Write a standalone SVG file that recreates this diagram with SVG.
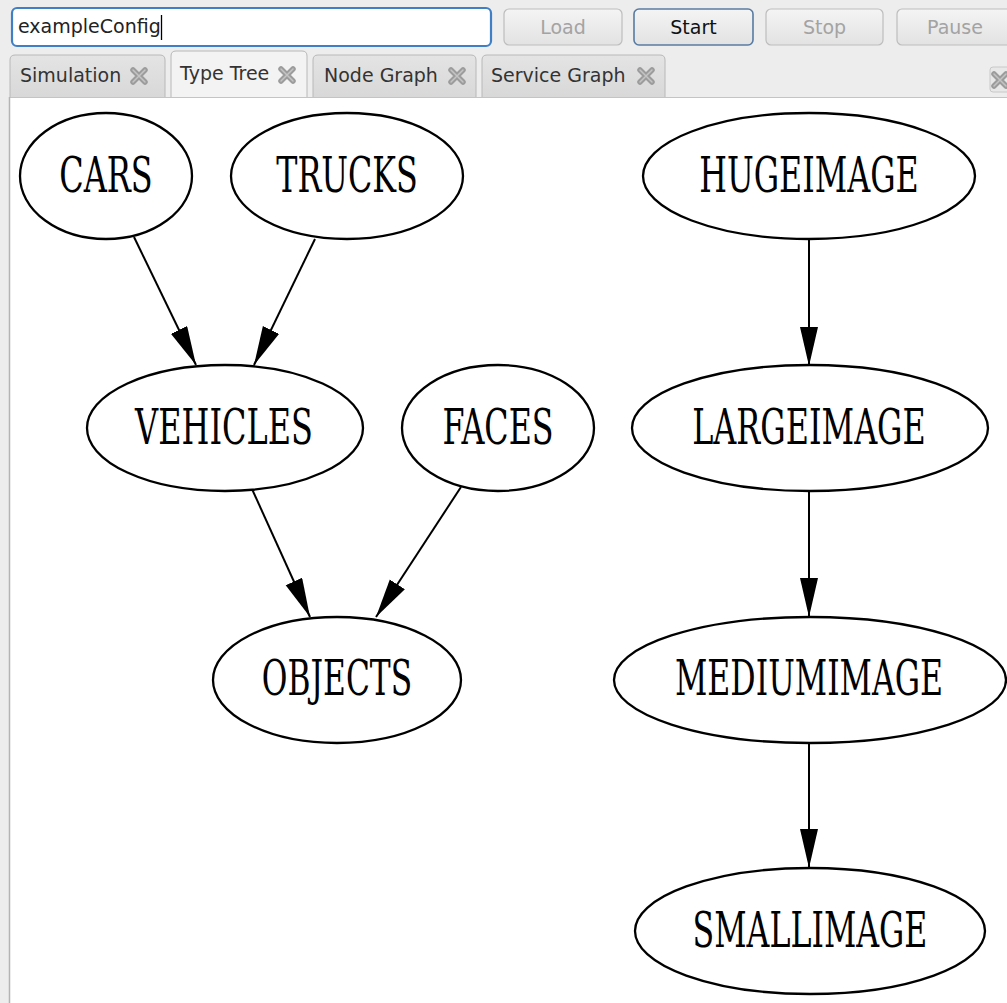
<svg xmlns="http://www.w3.org/2000/svg" width="1007" height="1003" viewBox="0 0 1007 1003">
  <defs>
    <linearGradient id="btnFill" x1="0" y1="0" x2="0" y2="1">
      <stop offset="0" stop-color="#f4f4f4"/>
      <stop offset="1" stop-color="#e2e2e2"/>
    </linearGradient>
    <linearGradient id="tabFill" x1="0" y1="0" x2="0" y2="1">
      <stop offset="0" stop-color="#e4e4e4"/>
      <stop offset="1" stop-color="#d8d8d8"/>
    </linearGradient>
    <marker id="arrow" markerUnits="userSpaceOnUse" markerWidth="40" markerHeight="20" refX="39" refY="9" orient="auto">
      <path d="M0,0 L39,9 L0,18 Z" fill="#000"/>
    </marker>
    <g id="closeIcon">
      <path d="M-6,-6 L6,6 M6,-6 L-6,6" stroke="#9c9c9c" stroke-width="5.5" stroke-linecap="round"/>
      <path d="M-6,-6 L6,6 M6,-6 L-6,6" stroke="#c4c4c4" stroke-width="1.5" stroke-linecap="round"/>
    </g>
  </defs>
  <style>
    .ui { font-family: "DejaVu Sans", "Liberation Sans", sans-serif; font-size: 19px; }
    .btn { fill: url(#btnFill); stroke: #bdbdbd; stroke-width: 1.2; }
    .btnText { fill: #a3a3a3; text-anchor: middle; }
    .tab { fill: url(#tabFill); stroke: #b8b8b8; stroke-width: 1; }
    .tabText { fill: #333; }
    .node ellipse { fill: #fff; stroke: #000; stroke-width: 2.3; }
    .node text { font-family: "DejaVu Serif", "Liberation Serif", serif; font-stretch: condensed; font-size: 48px; fill: #000; text-anchor: middle; }
    .edge { stroke: #000; stroke-width: 2; fill: none; marker-end: url(#arrow); }
  </style>

  <!-- window background -->
  <rect x="0" y="0" width="1007" height="1003" fill="#ededed"/>

  <!-- toolbar -->
  <g id="toolbar" class="ui">
    <rect x="12" y="8" width="479" height="38" rx="5" fill="#fff" stroke="#3f7fc6" stroke-width="2.2"/>
    <text x="18" y="33" fill="#222">exampleConfig</text>
    <line x1="161.5" y1="15" x2="161.5" y2="40" stroke="#000" stroke-width="1.3"/>

    <rect class="btn" x="504" y="9" width="118" height="36" rx="5"/>
    <text class="btnText" x="563" y="34">Load</text>
    <rect x="634" y="9" width="119" height="36" rx="5" fill="url(#btnFill)" stroke="#587ba3" stroke-width="1.6"/>
    <text x="693.5" y="34" fill="#111" text-anchor="middle">Start</text>
    <rect class="btn" x="766" y="9" width="117" height="36" rx="5"/>
    <text class="btnText" x="824.5" y="34">Stop</text>
    <rect class="btn" x="897" y="9" width="120" height="36" rx="5"/>
    <text class="btnText" x="955" y="34">Pause</text>
  </g>

  <!-- tab bar -->
  <g id="tabs" class="ui">
    <path class="tab" d="M10,97 V60 Q10,55 15,55 H160 Q165,55 165,60 V97"/>
    <text class="tabText" x="20" y="82">Simulation</text>
    <use href="#closeIcon" x="139" y="76"/>

    <path d="M171,98 V56 Q171,51 176,51 H302 Q307,51 307,56 V98" fill="#f3f3f3" stroke="#b8b8b8" stroke-width="1"/>
    <text class="tabText" x="180" y="80">Type Tree</text>
    <use href="#closeIcon" x="287" y="75"/>

    <path class="tab" d="M313,97 V60 Q313,55 318,55 H471 Q476,55 476,60 V97"/>
    <text class="tabText" x="324" y="82">Node Graph</text>
    <use href="#closeIcon" x="457" y="76"/>

    <path class="tab" d="M482,97 V60 Q482,55 487,55 H660 Q665,55 665,60 V97"/>
    <text class="tabText" x="491" y="82">Service Graph</text>
    <use href="#closeIcon" x="646" y="76"/>

    <rect x="990" y="67" width="22" height="25" rx="3" fill="#e8e8e8" stroke="#c8c8c8"/>
    <use href="#closeIcon" x="1000" y="80"/>
  </g>

  <!-- graph canvas -->
  <rect x="10" y="97" width="997" height="906" fill="#fff"/>
  <line x1="10" y1="97.5" x2="1007" y2="97.5" stroke="#c4c4c4" stroke-width="1"/>
  <line x1="9.5" y1="97" x2="9.5" y2="1003" stroke="#b4b4b4" stroke-width="1.5"/>

  <!-- connectors -->
  <g id="edges">
    <line class="edge" x1="134" y1="237" x2="196" y2="365"/>
    <line class="edge" x1="315" y1="239" x2="254" y2="365"/>
    <line class="edge" x1="252" y1="489" x2="310" y2="617"/>
    <line class="edge" x1="461" y1="487" x2="376" y2="617"/>
    <line class="edge" x1="809" y1="239" x2="809" y2="366"/>
    <line class="edge" x1="809" y1="491" x2="809" y2="617"/>
    <line class="edge" x1="809" y1="743" x2="809" y2="868"/>
  </g>

  <!-- nodes: labels are drawn narrowed horizontally -->
  <g id="cars" class="node">
    <ellipse cx="106" cy="176" rx="86" ry="63"/>
    <text transform="translate(106,192) scale(0.74,1)">CARS</text>
  </g>
  <g id="trucks" class="node">
    <ellipse cx="347" cy="176" rx="116" ry="63"/>
    <text transform="translate(347,192) scale(0.735,1)">TRUCKS</text>
  </g>
  <g id="hugeimage" class="node">
    <ellipse cx="809" cy="176" rx="166" ry="63"/>
    <text transform="translate(809,192) scale(0.735,1)">HUGEIMAGE</text>
  </g>
  <g id="vehicles" class="node">
    <ellipse cx="225" cy="428" rx="138" ry="63"/>
    <text transform="translate(224,444) scale(0.74,1)">VEHICLES</text>
  </g>
  <g id="faces" class="node">
    <ellipse cx="498" cy="428" rx="96" ry="63"/>
    <text transform="translate(498,444) scale(0.735,1)">FACES</text>
  </g>
  <g id="largeimage" class="node">
    <ellipse cx="810" cy="428" rx="178" ry="63"/>
    <text transform="translate(809,444) scale(0.737,1)">LARGEIMAGE</text>
  </g>
  <g id="objects" class="node">
    <ellipse cx="337" cy="680" rx="124" ry="63"/>
    <text transform="translate(337,695) scale(0.725,1)">OBJECTS</text>
  </g>
  <g id="mediumimage" class="node">
    <ellipse cx="810" cy="680" rx="196" ry="63"/>
    <text transform="translate(809,695) scale(0.732,1)">MEDIUMIMAGE</text>
  </g>
  <g id="smallimage" class="node">
    <ellipse cx="810" cy="931" rx="175" ry="63"/>
    <text transform="translate(810,947) scale(0.732,1)">SMALLIMAGE</text>
  </g>
</svg>
